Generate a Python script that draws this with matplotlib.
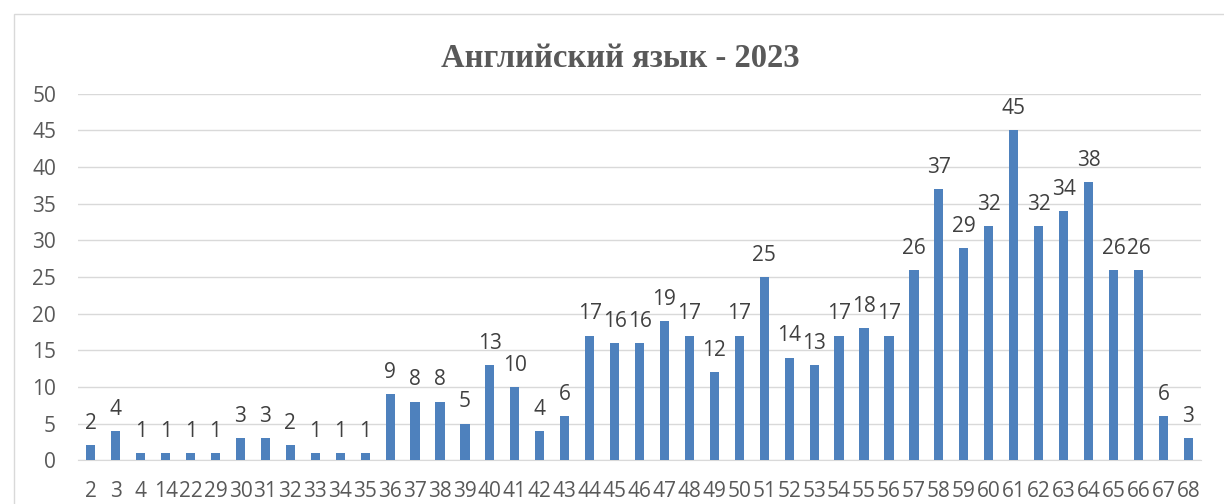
import matplotlib.pyplot as plt
from matplotlib.patches import Rectangle

scores = ["2", "3", "4", "14", "22", "29", "30", "31", "32", "33", "34", "35", "36", "37", "38",
          "39", "40", "41", "42", "43", "44", "45", "46", "47", "48", "49", "50", "51", "52", "53",
          "54", "55", "56", "57", "58", "59", "60", "61", "62", "63", "64", "65", "66", "67", "68"]
counts = [2, 4, 1, 1, 1, 1, 3, 3, 2, 1, 1, 1, 9, 8, 8,
          5, 13, 10, 4, 6, 17, 16, 16, 19, 17, 12, 17, 25, 14, 13,
          17, 18, 17, 26, 37, 29, 32, 45, 32, 34, 38, 26, 26, 6, 3]

plt.rcParams['font.family'] = ['Open Sans', 'DejaVu Sans']

fig = plt.figure(figsize=(12.24, 5.04), dpi=100)
ax = fig.add_axes([0.064, 0.087, 0.917, 0.727])

x = range(len(scores))
ax.bar(x, counts, width=0.37, color='#4e81bd', zorder=3)
for xi, v in zip(x, counts):
    ax.annotate(str(v), (xi, v), xytext=(0, 8), textcoords='offset points',
                ha='center', va='bottom', fontsize=15, color='#404040')

ax.set_xlim(-0.5, len(scores) - 0.5)
ax.set_ylim(0, 50)
ax.set_yticks(range(0, 51, 5))
ax.set_xticks(list(x))
ax.set_xticklabels(scores)
ax.tick_params(axis='both', length=0, labelsize=15, colors='#595959')
ax.tick_params(axis='y', pad=16)
ax.tick_params(axis='x', pad=15)
ax.grid(axis='y', color='#d9d9d9', linewidth=1, zorder=0)
for s in ['top', 'right', 'left']:
    ax.spines[s].set_visible(False)
ax.spines['bottom'].set_color('#d9d9d9')

fig.text(0.507, 0.883, "Английский язык - 2023", ha='center', va='center',
         fontsize=23.5, fontweight='bold', color='#595959', family='Liberation Serif')

fig.patches.append(Rectangle((14 / 1224, -0.1), 1.2, 1 - 14 / 504 + 0.1, transform=fig.transFigure,
                             fill=False, edgecolor='#d9d9d9', linewidth=1))

fig.savefig("out.png", dpi=100)
